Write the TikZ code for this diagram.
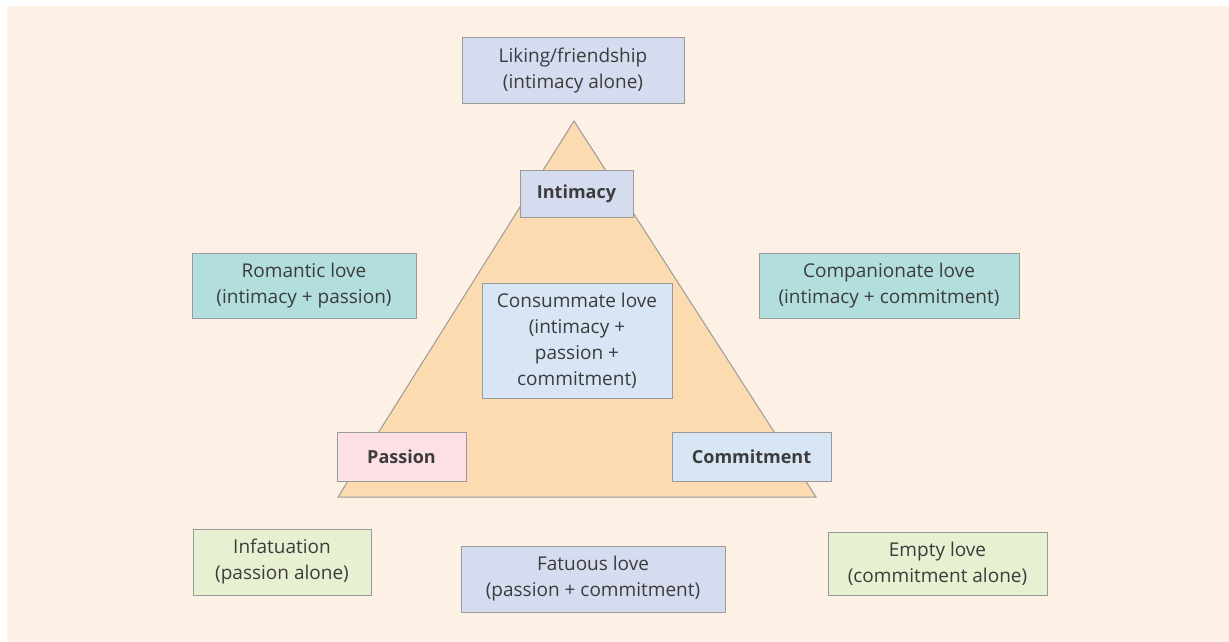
\documentclass[tikz,border=0pt]{standalone}
\usepackage{fontspec}
\setmainfont{Open Sans}
\definecolor{panel}{HTML}{FDF1E5}
\definecolor{tri}{HTML}{FDDBB0}
\definecolor{edge}{HTML}{9A9A9A}
\definecolor{ink}{HTML}{3C3C3C}
\definecolor{lavender}{HTML}{D6DCF0}
\definecolor{teal}{HTML}{B3DEDE}
\definecolor{skyblue}{HTML}{D7E5F5}
\definecolor{blush}{HTML}{FDE0E5}
\definecolor{sage}{HTML}{E8F0D2}
\tikzset{
  lovebox/.style={draw=edge, line width=1pt, rectangle, align=center,
    text=ink, inner sep=0pt, font=\fontsize{19}{26}\selectfont},
  cornerbox/.style={lovebox, font=\bfseries\fontsize{18}{26}\selectfont}
}
\begin{document}
\begin{tikzpicture}[x=1pt, y=-1pt]
\useasboundingbox (0,0) rectangle (1229,642);
\fill[white] (0,0) rectangle (1229,642);
\fill[panel] (7,6) rectangle (1229,642);
% the triangle of love
\coordinate (apex) at (574,121);
\coordinate (bl) at (338,497);
\coordinate (br) at (816,497);
\draw[edge, fill=tri, line width=1pt] (apex) -- (bl) -- (br) -- cycle;
% outer kinds of love
\node[lovebox, fill=lavender, minimum width=222pt, minimum height=65pt] (liking) at (573,70.5) {Liking/friendship\\(intimacy alone)};
\node[lovebox, fill=teal, minimum width=224pt, minimum height=65pt] (romantic) at (304,285.5) {Romantic love\\(intimacy + passion)};
\node[lovebox, fill=teal, minimum width=260pt, minimum height=65pt] (companionate) at (889,285.5) {Companionate love\\(intimacy + commitment)};
\node[lovebox, fill=skyblue, minimum width=190pt, minimum height=115pt] (consummate) at (577,340.5) {Consummate love\\(intimacy +\\passion +\\commitment)};
\node[lovebox, fill=sage, minimum width=178pt, minimum height=66pt] (infatuation) at (282,562) {Infatuation\\(passion alone)};
\node[lovebox, fill=lavender, minimum width=264pt, minimum height=66pt] (fatuous) at (593,579) {Fatuous love\\(passion + commitment)};
\node[lovebox, fill=sage, minimum width=219pt, minimum height=63pt] (empty) at (937.5,563.5) {Empty love\\(commitment alone)};
% the three components at the corners
\node[cornerbox, fill=lavender, minimum width=113pt, minimum height=47pt] (intimacy) at (576.5,193.5) {Intimacy};
\node[cornerbox, fill=blush, minimum width=129pt, minimum height=49pt] (passion) at (401.5,456.5) {Passion};
\node[cornerbox, fill=skyblue, minimum width=159pt, minimum height=49pt] (commitment) at (751.5,456.5) {Commitment};
\end{tikzpicture}
\end{document}
